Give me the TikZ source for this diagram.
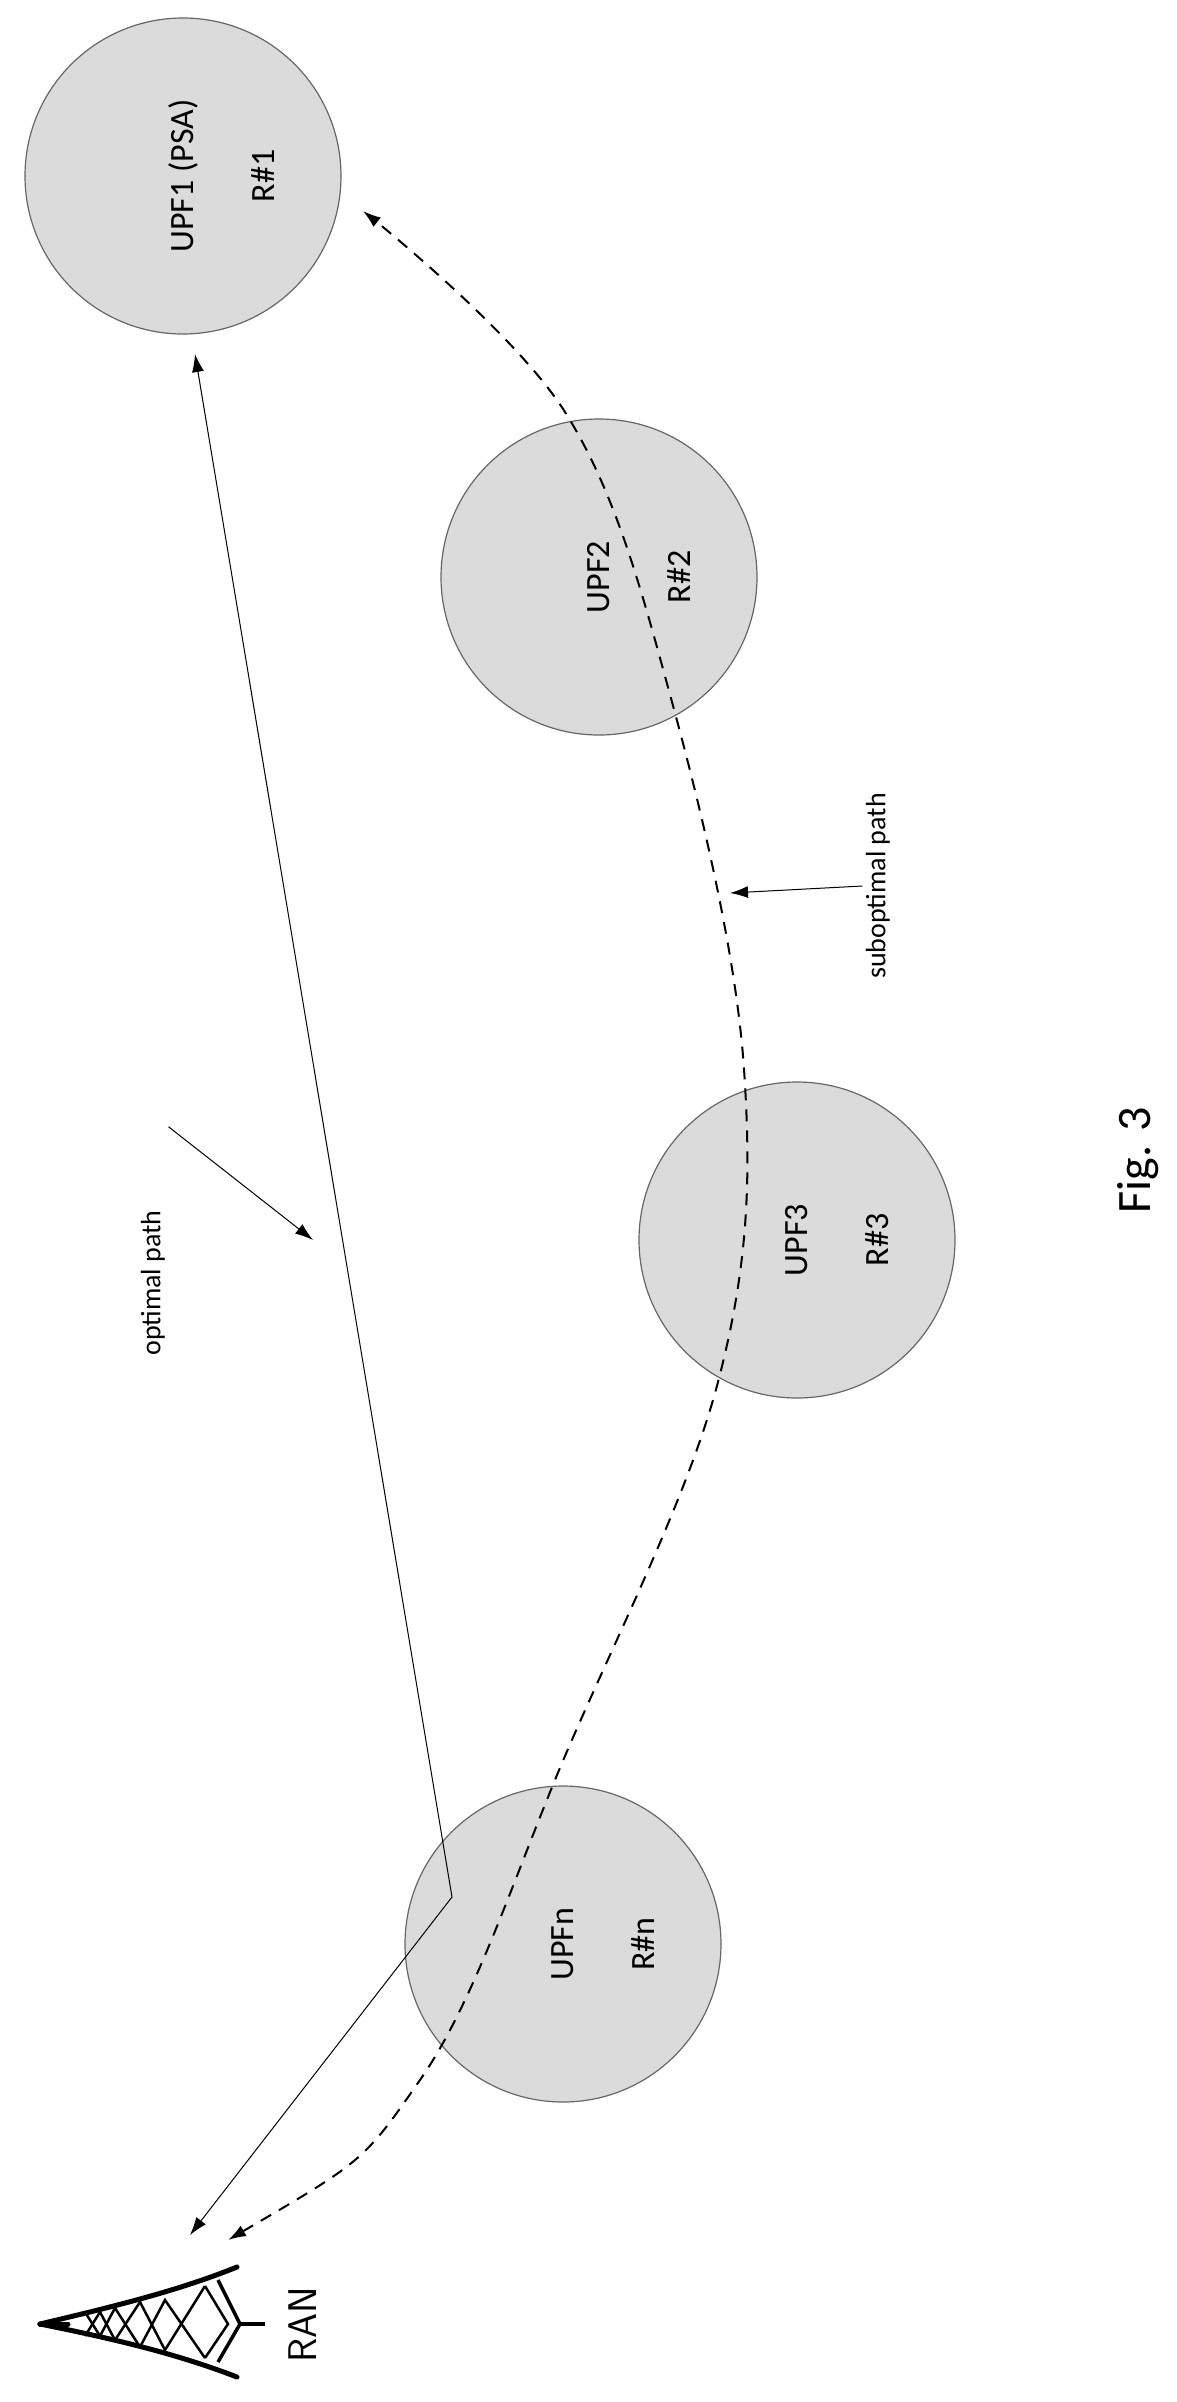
\documentclass[tikz,border=0pt]{standalone}
\usepackage{fontspec}
\setmainfont{Carlito}
\usetikzlibrary{arrows.meta}
\begin{document}
\begin{tikzpicture}[x=1pt,y=-1pt,
  upf/.style={circle,draw=gray!80!black,line width=1.2pt,fill=gray!28,minimum size=316pt,inner sep=0pt},
  lbl/.style={rotate=90,font=\fontsize{34}{36}\selectfont,align=center},
  tip/.style={-{Latex[length=18pt,width=12pt]}},
  twotip/.style={{Latex[length=18pt,width=12pt]}-{Latex[length=18pt,width=12pt]}},
  leg/.style={line width=5pt,line cap=round}]
\useasboundingbox (0,0) rectangle (1177,2402);
\node[upf] (u1) at (183,176) {};
\node[upf] (u2) at (599,577) {};
\node[upf] (u3) at (797,1240) {};
\node[upf] (un) at (563,1944) {};
\foreach \n/\a/\b in {u1/UPF1 (PSA)/R\#1,u2/UPF2/R\#2,u3/UPF3/R\#3,un/UPFn/R\#n}{
  \node[lbl] (\n a) at ([xshift=0pt]\n) {\a};
  \node[lbl] (\n b) at ([xshift=80pt]\n) {\b};
}
% optimal path
\coordinate (ran1) at (190,2235);
\coordinate (kink) at (452,1897);
\coordinate (op1) at (195,354);
\draw[line width=1pt,twotip] (ran1) -- (kink) -- (op1);
% suboptimal path
\coordinate (ran2) at (228,2240);
\coordinate (sp1) at (363,211);
\draw[line width=2pt,dash pattern=on 12pt off 9pt,twotip] plot[smooth,tension=0.6] coordinates {(ran2) (420,2080) (565,1756) (718,1382) (744,1069) (672,702) (565,412) (sp1)};
% labels
\node[rotate=90,font=\fontsize{28}{30}\selectfont] (ol) at (153,1283) {optimal path};
\coordinate (ot) at (313,1240);
\draw[line width=1pt,tip] (ol.south east) ++(0,-80) coordinate (os) -- (ot);
\node[rotate=90,font=\fontsize{28}{30}\selectfont] (sl) at (878,886) {suboptimal path};
\coordinate (st) at (730,893);
\draw[line width=1pt,tip] (sl.north) -- (st);
\node[rotate=90,font=\fontsize{48}{50}\selectfont] (fig) at (1138,1160) {Fig. 3};
% tower
\node[rotate=90,font=\sffamily\fontsize{40}{42}\selectfont] (ran) at (303,2325) {RAN};
\draw[leg] (40,2324) .. controls (120,2305) and (180,2290) .. (237,2267);
\draw[leg] (40,2324) .. controls (120,2340) and (180,2355) .. (237,2377);
\draw[leg] (40,2324) -- (68,2324);
\draw[line width=3.5pt] (218,2280) -- (240,2324) -- (218,2362);
\draw[line width=3.5pt] (240,2324) -- (265,2324);
\draw[line width=2.5pt] (205,2286) -- (228,2324) -- (205,2358);
\draw[line width=2.5pt] (85,2312) -- (100,2336) -- (115,2308) -- (140,2347) -- (165,2300) -- (205,2358);
\draw[line width=2.5pt] (85,2336) -- (100,2312) -- (115,2340) -- (140,2302) -- (165,2350) -- (205,2286);
\end{tikzpicture}
\end{document}
